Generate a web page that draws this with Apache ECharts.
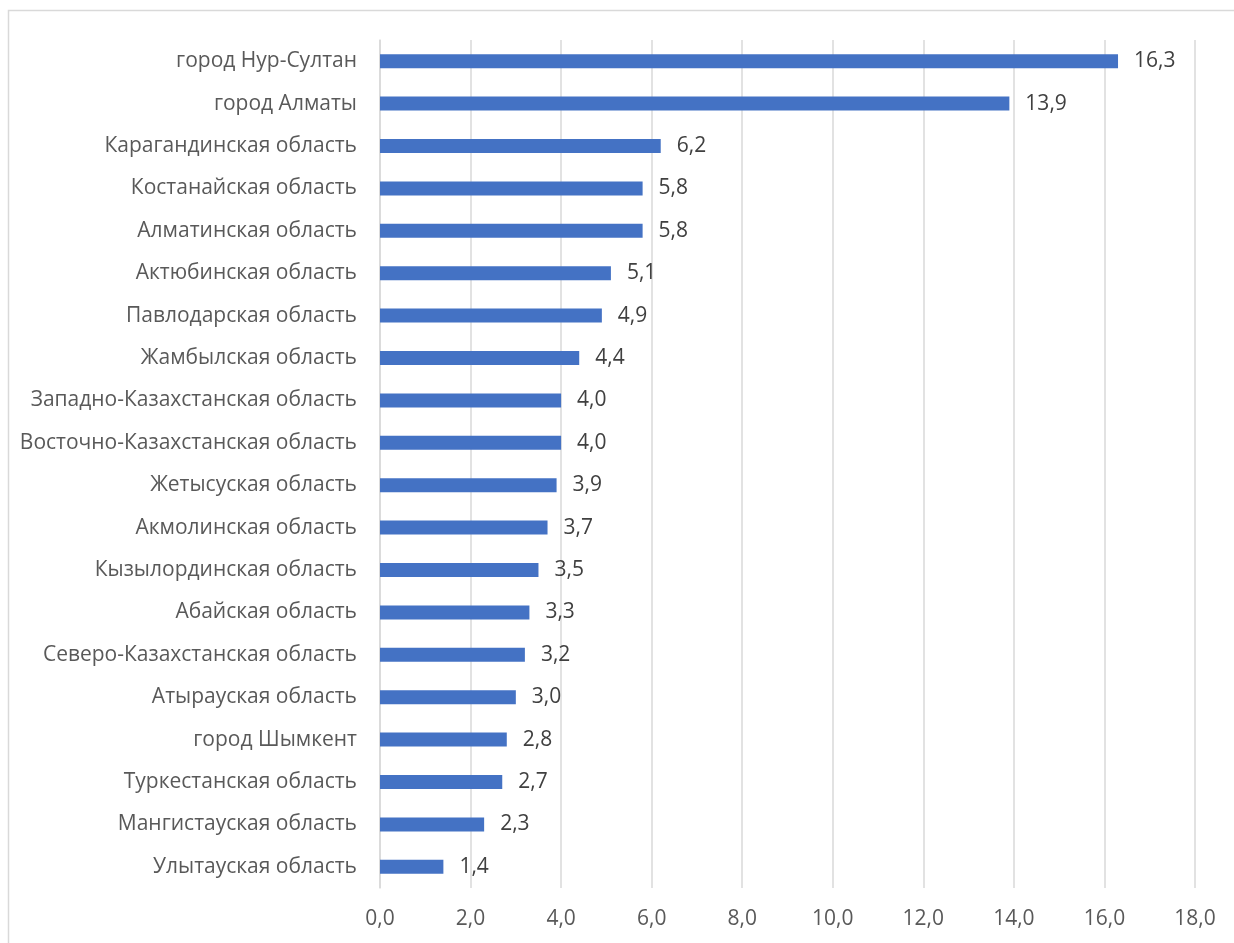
<!DOCTYPE html>
<html><head><meta charset="utf-8">
<script src="https://cdn.jsdelivr.net/npm/echarts@6/dist/echarts.min.js"></script>
<style>html,body{margin:0;padding:0;background:#fff}#c{width:1234px;height:943px}</style>
</head><body><div id="c"></div>
<script>
const categories = ["город Нур-Султан","город Алматы","Карагандинская область","Костанайская область","Алматинская область","Актюбинская область","Павлодарская область","Жамбылская область","Западно-Казахстанская область","Восточно-Казахстанская область","Жетысуская область","Акмолинская область","Кызылординская область","Абайская область","Северо-Казахстанская область","Атырауская область","город Шымкент","Туркестанская область","Мангистауская область","Улытауская область"];
const values = [16.3,13.9,6.2,5.8,5.8,5.1,4.9,4.4,4.0,4.0,3.9,3.7,3.5,3.3,3.2,3.0,2.8,2.7,2.3,1.4];
const xTicks = {min:0, max:18, interval:2};
const fmt = v => v.toFixed(1).replace('.', ',');
const chart = echarts.init(document.getElementById('c'));
const font = '"Open Sans", sans-serif';
chart.setOption({
  animation:false,
  graphic:[{type:'rect',shape:{x:8.5,y:10.5,width:1240,height:950},style:{fill:'none',stroke:'#d9d9d9',lineWidth:1.5}}],
  grid:{left:380,right:39,top:40,bottom:55,containLabel:false},
  xAxis:{type:'value',min:xTicks.min,max:xTicks.max,interval:xTicks.interval,
    axisLine:{show:false},axisTick:{show:false},
    splitLine:{lineStyle:{color:'#d9d9d9',width:1.5}},
    axisLabel:{formatter:fmt,color:'#595959',fontSize:21,fontFamily:font,margin:21}},
  yAxis:{type:'category',data:categories,inverse:true,
    axisLine:{lineStyle:{color:'#d9d9d9',width:1.5}},axisTick:{show:false},
    axisLabel:{color:'#595959',fontSize:21,fontFamily:font,margin:23}},
  series:[{type:'bar',data:values,barWidth:14,
    itemStyle:{color:'#4472C4'},
    label:{show:true,position:'right',distance:16,formatter:p=>fmt(p.value),color:'#404040',fontSize:21,fontFamily:font}}]
});
</script></body></html>
